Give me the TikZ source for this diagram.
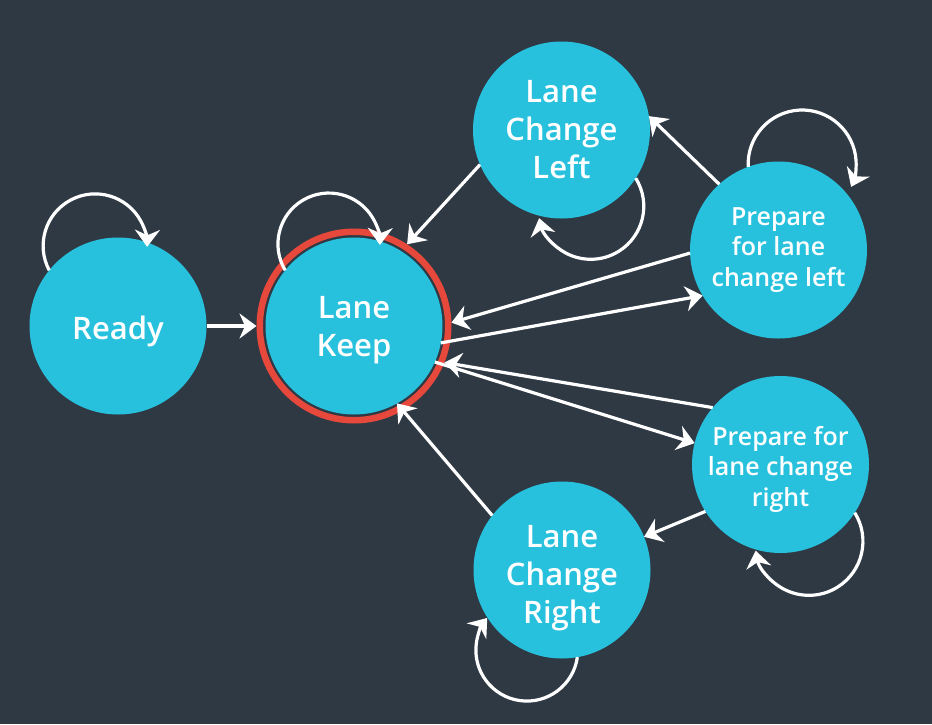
\documentclass[tikz,border=0pt]{standalone}
\usepackage{fontspec}
\setmainfont{Open Sans}
\IfFontExistsTF{Open Sans SemiBold}{\newfontfamily\labfont{Open Sans SemiBold}}{%
  \IfFontExistsTF{Open Sans Semibold}{\newfontfamily\labfont{Open Sans Semibold}}{%
    \newcommand\labfont{\bfseries}}}
\usetikzlibrary{arrows.meta,calc}
\definecolor{bgc}{HTML}{2F3944}
\definecolor{cyanc}{HTML}{27C1DD}
\definecolor{ringc}{HTML}{E6483B}
\tikzset{
  state/.style={circle, fill=cyanc, minimum size=177pt, inner sep=0pt, outer sep=0pt},
  bigtxt/.style={text=white, align=center, inner sep=0pt, font=\labfont\fontsize{31}{38}\selectfont},
  smalltxt/.style={text=white, align=center, inner sep=0pt, font=\labfont\fontsize{25}{30.5}\selectfont},
  arr/.style={draw=white, line width=3.2pt, -{Stealth[length=17pt, width=25pt, inset=5.5pt]}},
}
\begin{document}
\begin{tikzpicture}[x=1pt,y=1pt]
\fill[bgc] (0,0) rectangle (932,-724);
\useasboundingbox (0,0) rectangle (932,-724);
% ring around Lane Keep
\draw[ringc, line width=6.5pt] (354,-326) circle[radius=94.25];
\node[circle, minimum size=195pt, inner sep=0pt, outer sep=0pt] (Ko) at (354,-326) {};
% states
\node[state, label={[bigtxt, yshift=-5pt]center:Ready}] (R) at (118,-326) {};
\node[state, label={[bigtxt, yshift=-4.5pt]center:{Lane\\Keep}}] (K) at (354,-326) {};
\node[state, label={[bigtxt, yshift=0.5pt]center:{Lane\\Change\\Left}}] (L) at (561.5,-130) {};
\node[state, label={[smalltxt, yshift=0pt]center:{Prepare\\for lane\\change left}}] (P) at (778.5,-250) {};
\node[state, label={[smalltxt, yshift=-4.5pt]center:{Prepare for\\lane change\\right}}] (Q) at (780.5,-464.5) {};
\node[state, label={[bigtxt, yshift=-8pt]center:{Lane\\Change\\Right}}] (C) at (562,-570) {};
% transitions
\draw[arr] (R.east) -- (Ko.180);
\draw[arr] (L.203) -- (Ko.57);
\draw[arr] (P.132) -- (L.9);
\draw[arr] (P.182) -- (Ko.2);
\draw[arr] (K.-11) -- (P.211);
\draw[arr] (Q.140) -- (Ko.-22);
\draw[arr] (K.-24) -- (Q.166);
\draw[arr] (Q.212) -- (C.22);
\draw[arr] (C.142) -- (K.-61);
% self loops
\draw[arr] (R.141) arc[start angle=208, end angle=-1, radius=52];
\draw[arr] (K.141) arc[start angle=211, end angle=-1, radius=51];
\draw[arr] (L.-33) arc[start angle=32, end angle=-167, radius=53];
\draw[arr] (P.110) arc[start angle=183, end angle=-25, radius=54];
\draw[arr] (Q.-33) arc[start angle=32, end angle=-170, radius=54];
\draw[arr] (C.-80) arc[start angle=-8, end angle=-219, radius=51];
\end{tikzpicture}
\end{document}
